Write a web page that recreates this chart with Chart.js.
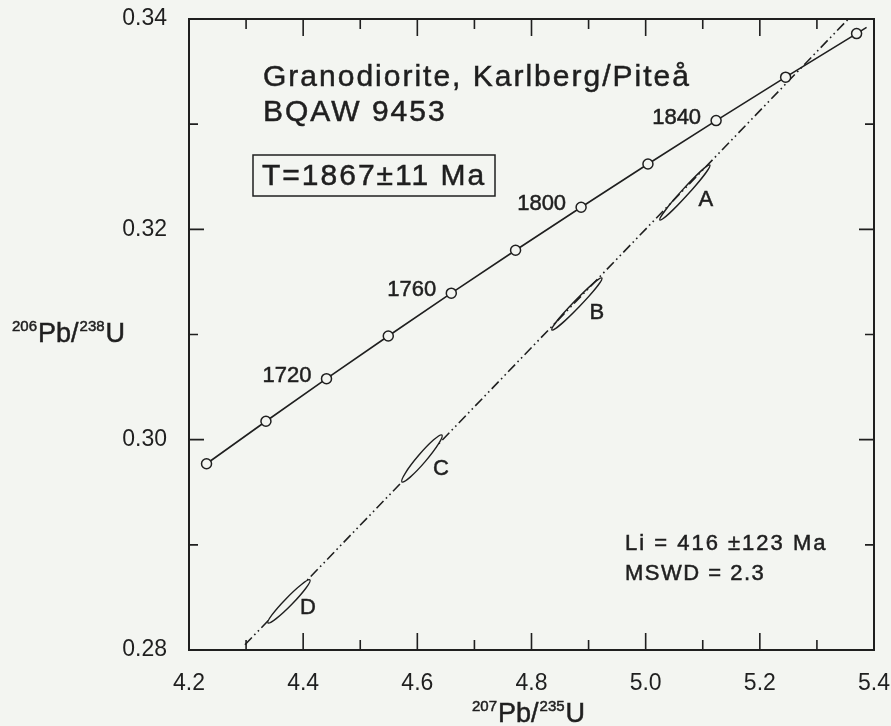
<!DOCTYPE html>
<html>
<head>
<meta charset="utf-8">
<script src="https://cdn.jsdelivr.net/npm/chart.js@4"></script>
<style>
  html, body { margin: 0; padding: 0; background: #f3f5f1; }
  #wrap { width: 891px; height: 726px; }
</style>
</head>
<body>
<div id="wrap"><canvas id="concordia" width="891" height="726"></canvas></div>
<script>
// concordia points, 1680..1880 Ma every 20 Ma (last pair = end of the curve, no marker)
const concAges = [1680, 1700, 1720, 1740, 1760, 1780, 1800, 1820, 1840, 1860, 1880, null];
const concX = [4.2307, 4.3348, 4.4409, 4.5491, 4.6595, 4.7721, 4.8869, 5.0040, 5.1234, 5.2452, 5.3695, 5.387];
const concY = [0.29771, 0.30175, 0.30580, 0.30986, 0.31393, 0.31801, 0.32210, 0.32621, 0.33034, 0.33447, 0.33861, 0.3392];
const labelledAges = [1720, 1760, 1800, 1840];

// discordia (dash-dot line), ends
const discX = [4.298, 5.355];
const discY = [0.2805, 0.3400];

// error ellipses: lower and upper tips, plus label spot
const ellNames = ['A', 'B', 'C', 'D'];
const ellX1 = [5.0249, 4.8357, 4.5730, 4.3384];
const ellY1 = [0.32089, 0.31043, 0.29598, 0.28257];
const ellX2 = [5.1124, 4.9233, 4.6431, 4.4119];
const ellY2 = [0.32612, 0.31537, 0.30044, 0.28666];
const ellLabelX = [5.1054, 4.9145, 4.6413, 4.4084];
const ellLabelY = [0.32279, 0.31204, 0.29721, 0.28400];

// axis ticks
const xMajor = [4.2, 4.4, 4.6, 4.8, 5.0, 5.2, 5.4];
const xMinor = [4.3, 4.5, 4.7, 4.9, 5.1, 5.3];
const yMajor = [0.28, 0.30, 0.32, 0.34];
const yMinor = [0.29, 0.31, 0.33];

const INK = '#1f1f1f';
const BG = '#f3f5f1';
const FONT = '"Liberation Sans", Arial, sans-serif';

const concData = concX.map((x, i) => ({ x: x, y: concY[i] }));
const discData = discX.map((x, i) => ({ x: x, y: discY[i] }));

// slightly heavier text, like the scanned original
function inkText(ctx, s, x, y) {
  ctx.fillText(s, x, y);
  ctx.lineWidth = 0.5;
  ctx.strokeText(s, x, y);
}

function supText(ctx, parts, x, y) {
  // parts: [text, isSuperscript]
  let cx = x;
  parts.forEach(([s, sup]) => {
    ctx.font = (sup ? '15px ' : '27px ') + FONT;
    inkText(ctx, s, cx, sup ? y - 11 : y);
    cx += ctx.measureText(s).width + 1;
  });
}

const decor = {
  id: 'decor',
  afterDatasetsDraw(chart) {
    const ctx = chart.ctx;
    const xs = chart.scales.x, ys = chart.scales.y;
    const a = chart.chartArea;
    ctx.save();
    ctx.strokeStyle = INK;
    ctx.fillStyle = INK;

    // frame
    ctx.lineWidth = 2;
    ctx.strokeRect(a.left, a.top, a.right - a.left, a.bottom - a.top);

    // inward ticks on all four sides
    ctx.lineWidth = 1.6;
    ctx.beginPath();
    xMajor.concat(xMinor).forEach(v => {
      const len = xMajor.includes(v) ? 17 : 10;
      const px = xs.getPixelForValue(v);
      ctx.moveTo(px, a.bottom); ctx.lineTo(px, a.bottom - len);
      ctx.moveTo(px, a.top); ctx.lineTo(px, a.top + len);
    });
    yMajor.concat(yMinor).forEach(v => {
      const len = yMajor.includes(v) ? 15 : 9;
      const py = ys.getPixelForValue(v);
      ctx.moveTo(a.left, py); ctx.lineTo(a.left + len, py);
      ctx.moveTo(a.right, py); ctx.lineTo(a.right - len, py);
    });
    ctx.stroke();

    // error ellipses
    const minor = [3.5, 3.5, 4.5, 4];
    const filled = [false, false, true, true];
    ellNames.forEach((name, i) => {
      const x1 = xs.getPixelForValue(ellX1[i]), y1 = ys.getPixelForValue(ellY1[i]);
      const x2 = xs.getPixelForValue(ellX2[i]), y2 = ys.getPixelForValue(ellY2[i]);
      const cx = (x1 + x2) / 2, cy = (y1 + y2) / 2;
      const r = Math.hypot(x2 - x1, y2 - y1) / 2;
      const ang = Math.atan2(y2 - y1, x2 - x1);
      ctx.lineWidth = 1.4;
      ctx.beginPath();
      ctx.ellipse(cx, cy, r, minor[i], ang, 0, Math.PI * 2);
      if (filled[i]) { ctx.fillStyle = BG; ctx.fill(); }
      ctx.stroke();
      ctx.fillStyle = INK;
      ctx.font = '22px ' + FONT;
      ctx.textAlign = 'center';
      ctx.textBaseline = 'middle';
      inkText(ctx, name, xs.getPixelForValue(ellLabelX[i]), ys.getPixelForValue(ellLabelY[i]));
    });

    // age labels on concordia
    ctx.font = '22px ' + FONT;
    ctx.textAlign = 'right';
    ctx.textBaseline = 'middle';
    labelledAges.forEach(age => {
      const i = concAges.indexOf(age);
      inkText(ctx, String(age), xs.getPixelForValue(concX[i]) - 15, ys.getPixelForValue(concY[i]) - 3);
    });

    // sample text
    ctx.textAlign = 'left';
    ctx.textBaseline = 'alphabetic';
    ctx.font = '30px ' + FONT;
    ctx.letterSpacing = '2px';
    inkText(ctx, 'Granodiorite, Karlberg/Piteå', 263, 86);
    inkText(ctx, 'BQAW 9453', 263, 121);
    inkText(ctx, 'T=1867±11 Ma', 262, 185);
    ctx.lineWidth = 1.5;
    ctx.strokeRect(253, 155, 242, 41);

    ctx.font = '22px ' + FONT;
    ctx.letterSpacing = '2px';
    inkText(ctx, 'Li = 416 ±123 Ma', 625, 550);
    ctx.letterSpacing = '1.5px';
    inkText(ctx, 'MSWD = 2.3', 625, 580);

    // axis titles
    ctx.letterSpacing = '0px';
    supText(ctx, [['206', true], ['Pb/', false], ['238', true], ['U', false]], 12, 342);
    supText(ctx, [['207', true], ['Pb/', false], ['235', true], ['U', false]], 472, 722);
    ctx.restore();
  }
};

Chart.defaults.font.family = FONT;
Chart.defaults.color = INK;

new Chart(document.getElementById('concordia').getContext('2d'), {
  type: 'scatter',
  data: {
    datasets: [
      {
        label: 'Concordia',
        data: concData,
        showLine: true,
        borderColor: INK,
        borderWidth: 1.6,
        pointRadius: concAges.map(a => a === null ? 0 : 5),
        pointBorderWidth: 1.5,
        pointBorderColor: INK,
        pointBackgroundColor: BG,
        clip: false
      },
      {
        label: 'Discordia',
        data: discData,
        showLine: true,
        borderColor: INK,
        borderWidth: 1.6,
        borderDash: [10, 3.5, 1.6, 3.5, 1.6, 3.5],
        pointRadius: 0,
        clip: false
      }
    ]
  },
  options: {
    responsive: false,
    animation: false,
    devicePixelRatio: 1,
    layout: { padding: { top: 19, right: 17, left: 0, bottom: 0 } },
    plugins: { legend: { display: false }, tooltip: { enabled: false } },
    scales: {
      x: {
        type: 'linear',
        min: 4.2,
        max: 5.4,
        grid: { display: false },
        border: { display: false },
        ticks: {
          stepSize: 0.2,
          padding: 12,
          color: INK,
          font: { size: 23 },
          maxRotation: 0,
          callback: v => v.toFixed(1)
        },
        afterFit: s => { s.height = 76; s.paddingLeft = 0; s.paddingRight = 0; }
      },
      y: {
        type: 'linear',
        min: 0.28,
        max: 0.34,
        grid: { display: false },
        border: { display: false },
        ticks: {
          stepSize: 0.02,
          padding: 14,
          color: INK,
          font: { size: 23 },
          callback: v => v.toFixed(2)
        },
        afterFit: s => { s.width = 189; s.paddingTop = 0; s.paddingBottom = 0; }
      }
    }
  },
  plugins: [decor]
});
</script>
</body>
</html>
